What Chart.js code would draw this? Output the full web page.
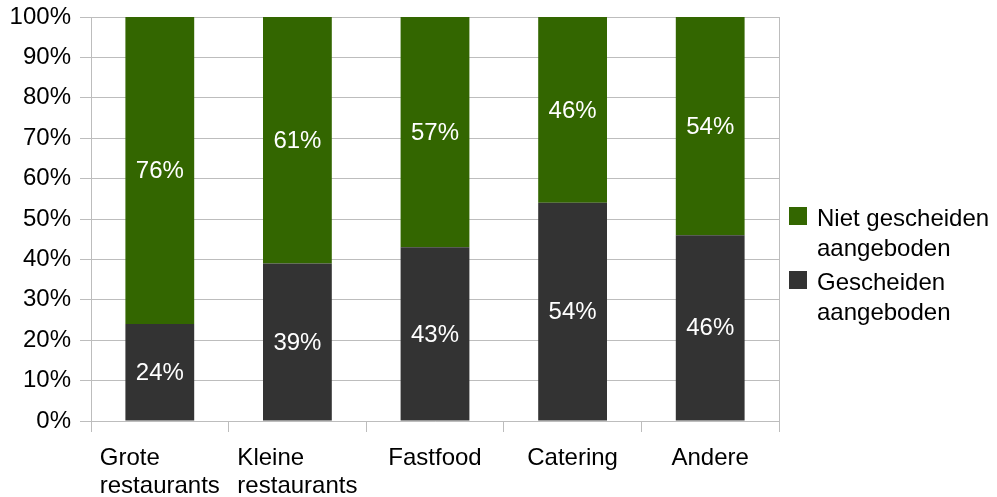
<!DOCTYPE html>
<html>
<head>
<meta charset="utf-8">
<script src="https://cdn.jsdelivr.net/npm/chart.js@4/dist/chart.umd.min.js"></script>
<style>
    html, body { margin: 0; padding: 0; background: #fff; }
    #wrap { width: 997px; height: 497px; }
</style>
</head>
<body>
<div id="wrap"><canvas id="chart" width="997" height="497"></canvas></div>
<script>
const categories = [['Grote', 'restaurants'], ['Kleine', 'restaurants'], ['Fastfood'], ['Catering'], ['Andere']];
const gescheiden = [24, 39, 43, 54, 46];
const nietGescheiden = [76, 61, 57, 46, 54];
const seriesNames = [['Gescheiden', 'aangeboden'], ['Niet gescheiden', 'aangeboden']];
const seriesColors = ['#333333', '#336600'];

const FONT = '"Liberation Sans", Arial, sans-serif';
const FSIZE = 24;
const gridColor = '#bdbdbd';

// labels in de balken, x-as tekst, legenda en rechterrand
const extras = {
    id: 'extras',
    afterDatasetsDraw(chart) {
        const ctx = chart.ctx;
        const area = chart.chartArea;
        ctx.save();

        // rechterrand van het plotgebied
        ctx.strokeStyle = gridColor;
        ctx.lineWidth = 1;
        ctx.beginPath();
        ctx.moveTo(Math.round(area.right) + 0.5, area.top);
        ctx.lineTo(Math.round(area.right) + 0.5, area.bottom);
        ctx.stroke();

        // waarden in de balken
        ctx.font = FSIZE + 'px ' + FONT;
        ctx.fillStyle = '#ffffff';
        ctx.textAlign = 'center';
        ctx.textBaseline = 'middle';
        chart.data.datasets.forEach((ds, i) => {
            const meta = chart.getDatasetMeta(i);
            meta.data.forEach((bar, j) => {
                const y = (bar.y + bar.base) / 2;
                ctx.fillText(ds.data[j] + '%', bar.x, y + 1);
            });
        });

        // categorie labels: blok gecentreerd, regels links uitgelijnd
        const xScale = chart.scales.x;
        ctx.fillStyle = '#000000';
        ctx.textAlign = 'left';
        ctx.textBaseline = 'alphabetic';
        categories.forEach((lines, i) => {
            const cx = xScale.getPixelForValue(i);
            const w = Math.max(...lines.map(l => ctx.measureText(l).width));
            lines.forEach((line, k) => {
                ctx.fillText(line, cx - w / 2, 465 + k * 28);
            });
        });

        // legenda (omgekeerde volgorde)
        const items = [1, 0];
        items.forEach((s, n) => {
            const top = 207 + n * 64;
            ctx.fillStyle = seriesColors[s];
            ctx.fillRect(789, top, 18, 18);
            ctx.fillStyle = '#000000';
            seriesNames[s].forEach((line, k) => {
                ctx.fillText(line, 817, top + 19 + k * 30);
            });
        });

        ctx.restore();
    }
};

new Chart(document.getElementById('chart'), {
    type: 'bar',
    data: {
        labels: categories,
        datasets: [
            { label: 'Gescheiden aangeboden', data: gescheiden, backgroundColor: seriesColors[0] },
            { label: 'Niet gescheiden aangeboden', data: nietGescheiden, backgroundColor: seriesColors[1] }
        ]
    },
    options: {
        responsive: false,
        animation: false,
        layout: { padding: { top: 17, right: 218, left: 0, bottom: 0 } },
        datasets: { bar: { categoryPercentage: 1, barPercentage: 0.5 } },
        plugins: {
            legend: { display: false },
            tooltip: { enabled: false }
        },
        scales: {
            x: {
                stacked: true,
                offset: true,
                grid: { offset: true, drawOnChartArea: false, drawTicks: true, tickLength: 11, color: gridColor },
                border: { display: true, color: gridColor },
                ticks: { display: false },
                afterFit(scale) { scale.height = 76; }
            },
            y: {
                stacked: true,
                min: 0,
                max: 100,
                grid: { color: gridColor, tickLength: 11 },
                border: { display: true, color: gridColor },
                ticks: {
                    stepSize: 10,
                    padding: 9,
                    color: '#000000',
                    font: { family: FONT, size: FSIZE },
                    callback: v => v + '%'
                },
                afterFit(scale) {
                    scale.width = 91;
                    scale.paddingTop = 0;
                    scale.paddingBottom = 0;
                }
            }
        }
    },
    plugins: [extras]
});
</script>
</body>
</html>
